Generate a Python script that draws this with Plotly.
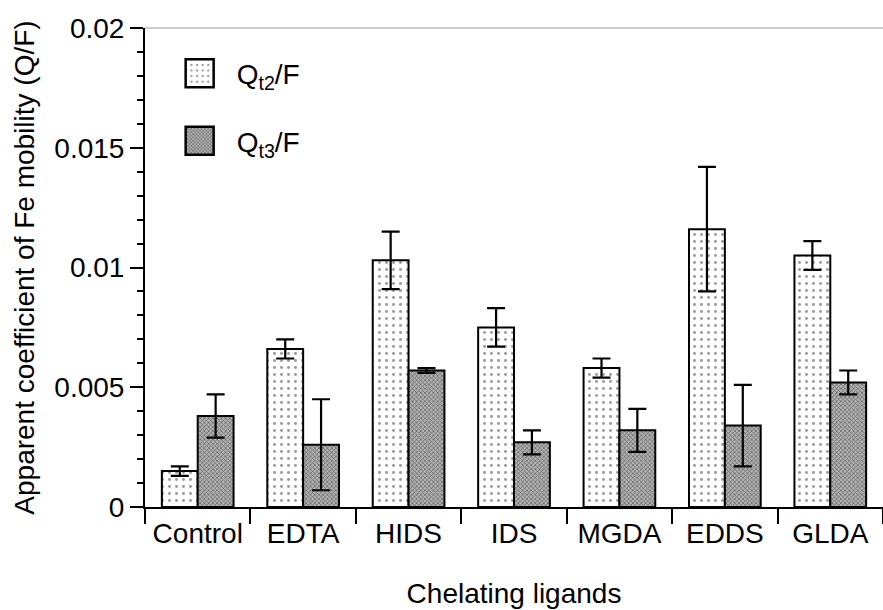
import plotly.graph_objects as go

categories = ["Control", "EDTA", "HIDS", "IDS", "MGDA", "EDDS", "GLDA"]
qt2_values = [0.0015, 0.0066, 0.0103, 0.0075, 0.0058, 0.0116, 0.0105]
qt2_errors = [0.0002, 0.0004, 0.0012, 0.0008, 0.0004, 0.0026, 0.0006]
qt3_values = [0.0038, 0.0026, 0.0057, 0.0027, 0.0032, 0.0034, 0.0052]
qt3_errors = [0.0009, 0.0019, 0.0001, 0.0005, 0.0009, 0.0017, 0.0005]

FONT = "Liberation Sans, Arial, sans-serif"

fig = go.Figure()
fig.add_trace(go.Bar(
    name="Q<sub>t2</sub>/F", x=categories, y=qt2_values, legendgroup="a",
    marker=dict(color="white", line=dict(color="black", width=2),
                pattern=dict(shape=".", fgcolor="#333", bgcolor="white",
                             size=7, solidity=0.14, fillmode="overlay")),
    error_y=dict(type="data", array=qt2_errors, color="black", thickness=2.2, width=9),
))
fig.add_trace(go.Bar(
    name="Q<sub>t3</sub>/F", x=categories, y=qt3_values, legendgroup="b",
    marker=dict(color="#8f8f8f", line=dict(color="black", width=2),
                pattern=dict(shape="x", fgcolor="#5a5a5a", bgcolor="#b4b4b4",
                             size=3, solidity=0.4, fillmode="replace")),
    error_y=dict(type="data", array=qt3_errors, color="black", thickness=2.2, width=9),
))

fig.update_layout(
    width=883, height=610,
    margin=dict(l=145, r=0, t=28, b=103),
    paper_bgcolor="white", plot_bgcolor="white",
    font=dict(family=FONT, size=28, color="black"),
    barmode="group", bargap=0.32, bargroupgap=0,
    legend=dict(x=0.07, y=0.957, xanchor="left", yanchor="top",
                bgcolor="rgba(0,0,0,0)", font=dict(size=28),
                traceorder="grouped", tracegroupgap=28),
    xaxis=dict(
        title=dict(text="Chelating ligands", standoff=36,
                   font=dict(size=28, family=FONT)),
        showline=True, linecolor="black", linewidth=2,
        ticks="outside", tickson="boundaries", ticklen=15, tickwidth=1.5,
        tickcolor="black", showgrid=False,
    ),
    yaxis=dict(
        title=dict(text="Apparent coefficient of Fe mobility (Q/F)", standoff=12,
                   font=dict(size=28, family=FONT)),
        range=[0, 0.02], tickvals=[0, 0.005, 0.01, 0.015, 0.02],
        ticktext=["0", "0.005", "0.01", "0.015", "0.02"],
        showline=True, linecolor="black", linewidth=2,
        ticks="outside", ticklen=13, tickwidth=1.5, tickcolor="black",
        minor=dict(dtick=0.001, ticks="outside", ticklen=6, tickwidth=1.5,
                   tickcolor="black", showgrid=False),
        showgrid=False, zeroline=False,
    ),
    shapes=[dict(type="line", xref="paper", yref="paper", x0=0, x1=1, y0=1, y1=1,
                 line=dict(color="#bbbbbb", width=1.5))],
)

# enlarge the legend key boxes to match the reference's larger swatches
post_js = """
var gd = document.getElementById('{plot_id}');
function bigKeys(){
  var lg = gd.querySelectorAll('.legend');
  lg.forEach(function(l){
    l.removeAttribute('clip-path');
    l.querySelectorAll('[clip-path]').forEach(function(e){ e.removeAttribute('clip-path'); });
  });
  gd.querySelectorAll('.legend .legendpoints path').forEach(function(p){
    p.setAttribute('d', 'M-3,14H-31V-14H-3Z');
    p.style.strokeWidth = '2.5px';
  });
}
bigKeys();
setTimeout(bigKeys, 50);
setTimeout(bigKeys, 300);
if (gd.on) { gd.on('plotly_afterplot', bigKeys); }
"""

fig.write_html("out.html", post_script=post_js)
